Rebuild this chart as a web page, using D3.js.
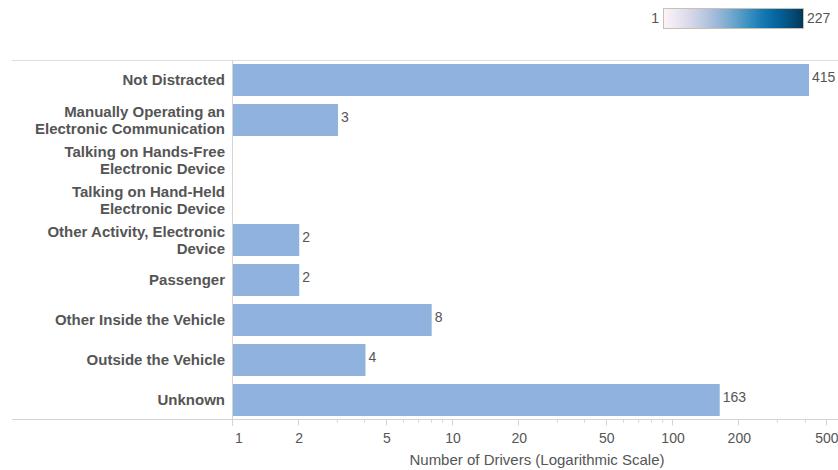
<!DOCTYPE html>
<html>
<head>
<meta charset="utf-8">
<script src="https://cdn.jsdelivr.net/npm/d3@7"></script>
<style>
  body { margin: 0; background: #fff; font-family: "Liberation Sans", Arial, sans-serif; }
  .cat { font-weight: bold; fill: #555; font-size: 15px; }
  .val { fill: #555; font-size: 14px; }
  .title { fill: #555; font-size: 15px; }
</style>
</head>
<body>
<div id="chart"></div>
<script>
// data
var categories = [
  ["Not Distracted"],
  ["Manually Operating an", "Electronic Communication"],
  ["Talking on Hands-Free", "Electronic Device"],
  ["Talking on Hand-Held", "Electronic Device"],
  ["Other Activity, Electronic", "Device"],
  ["Passenger"],
  ["Other Inside the Vehicle"],
  ["Outside the Vehicle"],
  ["Unknown"]
];
var values = [415, 3, null, null, 2, 2, 8, 4, 163];
var majorTicks = [1, 2, 5, 10, 20, 50, 100, 200, 500];
var minorTicks = [3, 4, 6, 7, 8, 9, 30, 40, 60, 70, 80, 90, 300, 400];
var legendRange = [1, 227];

var fullWidth = 838, fullHeight = 470;
var plotLeft = 232, plotRight = 838, plotTop = 60, plotBottom = 420;

var svg = d3.select("#chart").append("svg")
  .attr("width", fullWidth)
  .attr("height", fullHeight);

var x = d3.scaleLog()
  .domain([1, 562])
  .range([plotLeft + 1, plotRight]);

var y = d3.scaleBand()
  .domain(d3.range(categories.length))
  .range([plotTop, plotBottom])
  .paddingInner(0.2)
  .paddingOuter(0.1);

// frame lines
svg.append("line")
  .attr("x1", 12).attr("x2", plotRight)
  .attr("y1", plotTop + 0.5).attr("y2", plotTop + 0.5)
  .attr("stroke", "#ddd");
svg.append("line")
  .attr("x1", 12).attr("x2", plotRight)
  .attr("y1", plotBottom - 0.5).attr("y2", plotBottom - 0.5)
  .attr("stroke", "#d4d4d4");
svg.append("line")
  .attr("x1", plotLeft + 0.5).attr("x2", plotLeft + 0.5)
  .attr("y1", plotTop).attr("y2", plotBottom + 6)
  .attr("stroke", "#d4d4d4");

// rows: bar, value label, category label
var rows = svg.selectAll(".row")
  .data(values)
  .enter()
  .append("g")
  .attr("class", "row");

rows.each(function(d, i) {
  var g = d3.select(this);
  var cy = y(i) + y.bandwidth() / 2;
  if (d != null) {
    g.append("rect")
      .attr("x", x(1))
      .attr("y", y(i))
      .attr("height", y.bandwidth())
      .attr("width", x(d) - x(1))
      .attr("fill", "#8fb3de");
    g.append("text")
      .attr("class", "val")
      .attr("x", x(d) + 3)
      .attr("y", cy - 3)
      .attr("dy", "0.35em")
      .text(d);
  }
  var lines = categories[i];
  var t = g.append("text")
    .attr("class", "cat")
    .attr("text-anchor", "end")
    .attr("x", plotLeft - 7)
    .attr("y", cy + 5 - (lines.length - 1) * 8.5);
  lines.forEach(function(s, j) {
    t.append("tspan")
      .attr("x", plotLeft - 7)
      .attr("dy", j == 0 ? 0 : 17)
      .text(s);
  });
});

// x axis
var axis = svg.append("g")
  .attr("transform", "translate(0," + (plotBottom - 0.5) + ")");

axis.selectAll(".major")
  .data(majorTicks)
  .enter()
  .append("line")
  .attr("x1", function(d) { return Math.round(x(d)) - 0.5; })
  .attr("x2", function(d) { return Math.round(x(d)) - 0.5; })
  .attr("y1", 0).attr("y2", 6)
  .attr("stroke", "#d4d4d4");

axis.selectAll(".minor")
  .data(minorTicks)
  .enter()
  .append("line")
  .attr("x1", function(d) { return Math.round(x(d)) - 0.5; })
  .attr("x2", function(d) { return Math.round(x(d)) - 0.5; })
  .attr("y1", 0).attr("y2", 3)
  .attr("stroke", "#d4d4d4");

axis.selectAll(".lbl")
  .data(majorTicks)
  .enter()
  .append("text")
  .attr("class", "val")
  .attr("x", function(d, i) { return i == 0 ? x(d) + 2 : x(d); })
  .attr("y", 23)
  .attr("text-anchor", function(d, i) { return i == 0 ? "start" : "middle"; })
  .text(function(d) { return d; });

svg.append("text")
  .attr("class", "title")
  .attr("x", 537)
  .attr("y", 465)
  .attr("text-anchor", "middle")
  .text("Number of Drivers (Logarithmic Scale)");

// colour legend
var defs = svg.append("defs");
var grad = defs.append("linearGradient").attr("id", "lg");
d3.range(0, 1.01, 0.1).forEach(function(t) {
  grad.append("stop")
    .attr("offset", (t * 100) + "%")
    .attr("stop-color", d3.interpolatePuBu(0.03 + t * 0.97));
});
svg.append("rect")
  .attr("x", 663.5).attr("y", 8.5)
  .attr("width", 140).attr("height", 20)
  .attr("fill", "url(#lg)")
  .attr("stroke", "#c8c0b0");
svg.append("text")
  .attr("class", "val")
  .attr("x", 659).attr("y", 23)
  .attr("text-anchor", "end")
  .text(legendRange[0]);
svg.append("text")
  .attr("class", "val")
  .attr("x", 807).attr("y", 23)
  .text(legendRange[1]);
</script>
</body>
</html>
